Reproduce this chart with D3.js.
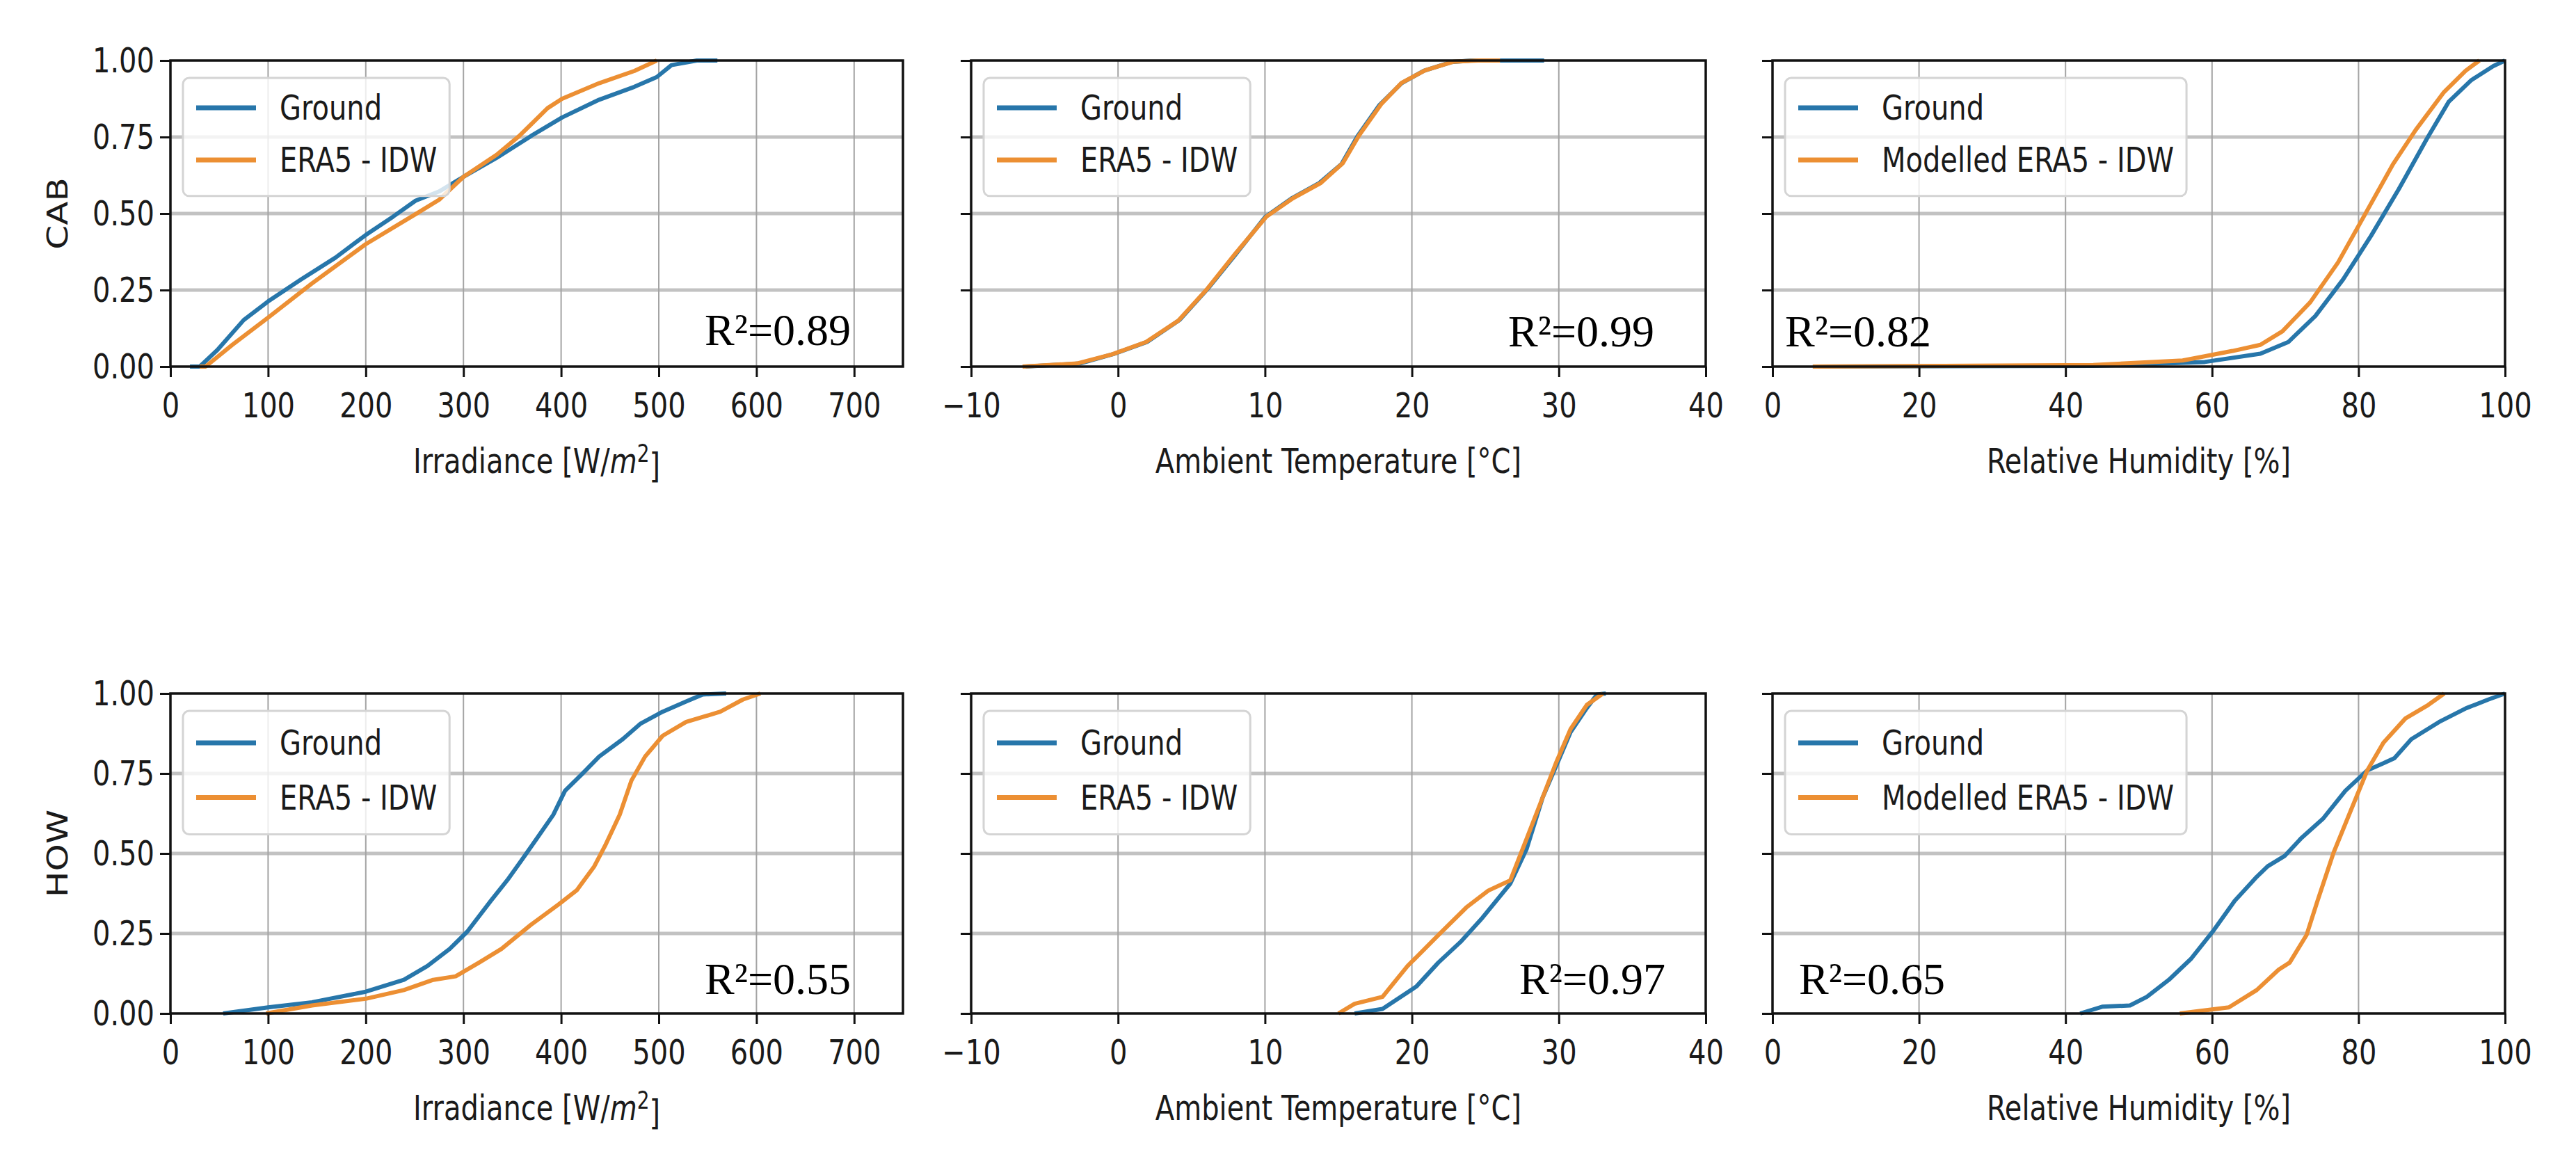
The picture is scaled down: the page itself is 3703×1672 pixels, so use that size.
<!DOCTYPE html>
<html>
<head>
<meta charset="utf-8">
<script src="https://cdn.jsdelivr.net/npm/d3@7"></script>
<style>
  body { margin: 0; background: #fff; }
  svg text { font-family: "DejaVu Sans", sans-serif; fill: #1a1a1a; }
  /* the source figure is stretched vertically, so glyphs are a bit tall */
  .sy { transform-box: fill-box; transform-origin: 50% 50%; transform: scaleY(1.25); }
  .r2 { font-family: "Liberation Serif", "Times New Roman", serif; fill: #000; }
</style>
</head>
<body>
<div id="chart"></div>
<script>
// Tick values for each kind of axis
const irrTicks = [0, 100, 200, 300, 400, 500, 600, 700];
const tempTicks = [-10, 0, 10, 20, 30, 40];
const rhTicks = [0, 20, 40, 60, 80, 100];
const cdfTicks = [0, 0.25, 0.5, 0.75, 1];

const rowLabels = ["CAB", "HOW"];
const r2Labels = ["0.89", "0.99", "0.82", "0.55", "0.97", "0.65"];

// CDF curves, [value, cumulative fraction]
const cabIrrGround = [[20,0],[30,0],[48,0.054],[75,0.152],[100,0.213],[134,0.285],[169,0.356],[200,0.43],[228,0.49],[251,0.542],[275,0.572],[300,0.62],[334,0.682],[369,0.753],[401,0.814],[439,0.872],[475,0.914],[498,0.946],[513,0.985],[539,1],[560,1]];
const cabIrrEra = [[30,0],[36,0],[63,0.07],[100,0.16],[145,0.272],[200,0.4],[251,0.498],[275,0.545],[300,0.62],[334,0.692],[357,0.753],[386,0.844],[401,0.875],[439,0.926],[475,0.966],[498,1]];
const cabTempGround = [[-6.3,0],[-2.6,0.01],[-0.3,0.041],[2.0,0.081],[4.2,0.153],[6.1,0.254],[8.0,0.366],[10,0.488],[11.8,0.549],[13.7,0.6],[15.2,0.661],[16.3,0.753],[17.8,0.855],[19.3,0.926],[20.8,0.966],[22.7,0.995],[24,1],[29,1]];
const cabTempEra = [[-6.5,0],[-2.8,0.01],[-0.4,0.04],[1.9,0.08],[4.1,0.15],[6.0,0.25],[8.0,0.37],[10.1,0.49],[11.9,0.55],[13.8,0.6],[15.3,0.665],[16.4,0.755],[17.9,0.857],[19.3,0.927],[20.9,0.968],[22.8,0.996],[24.5,1],[26,1]];
const cabRhGround = [[5.5,0],[43.8,0.002],[59,0.015],[66.6,0.042],[70.4,0.08],[74.1,0.165],[77.9,0.285],[81.7,0.427],[85.5,0.58],[89.3,0.743],[92.3,0.865],[95.4,0.936],[98.4,0.982],[100,1]];
const cabRhEra = [[5.5,0],[43.8,0.005],[56,0.02],[62.8,0.051],[66.6,0.071],[69.6,0.115],[73.4,0.21],[77.2,0.34],[80.9,0.498],[84.7,0.661],[87.8,0.773],[91.6,0.895],[94.6,0.966],[96.5,1]];
const howIrrGround = [[54,0],[100,0.019],[145,0.035],[200,0.068],[239,0.105],[263,0.148],[286,0.202],[304,0.256],[328,0.352],[345,0.417],[360,0.481],[375,0.546],[392,0.621],[404,0.696],[422,0.75],[439,0.803],[463,0.857],[481,0.905],[504,0.943],[528,0.975],[545,0.997],[569,1]];
const howIrrEra = [[98,0],[145,0.025],[200,0.046],[239,0.073],[269,0.105],[292,0.116],[316,0.159],[339,0.202],[369,0.277],[398,0.342],[416,0.385],[434,0.46],[445,0.524],[460,0.621],[472,0.728],[486,0.803],[504,0.868],[528,0.911],[563,0.943],[586,0.981],[604,1]];
const howTempGround = [[16.1,0],[18.0,0.014],[20.3,0.084],[21.8,0.159],[23.3,0.223],[24.8,0.299],[26.7,0.406],[27.8,0.513],[28.9,0.675],[30.0,0.793],[30.8,0.879],[31.9,0.954],[32.6,0.997],[33.2,1]];
const howTempEra = [[15.0,0],[16.1,0.03],[18.0,0.052],[19.7,0.148],[21.8,0.245],[23.7,0.331],[25.2,0.384],[26.7,0.416],[27.8,0.545],[28.9,0.675],[29.8,0.782],[30.8,0.889],[31.9,0.964],[33.0,1]];
const howRhGround = [[42,0],[45,0.021],[48.8,0.025],[51.1,0.052],[54.1,0.105],[57.1,0.17],[60.1,0.256],[63.1,0.352],[66.1,0.427],[67.6,0.46],[69.9,0.492],[72.1,0.546],[75.2,0.61],[78.2,0.696],[81.2,0.76],[83.4,0.782],[84.9,0.798],[87.2,0.857],[91,0.911],[94.7,0.954],[97.7,0.981],[100,1]];
const howRhEra = [[55.6,0],[62.3,0.019],[66.1,0.073],[69.1,0.137],[70.6,0.159],[72.9,0.245],[74.4,0.352],[76.6,0.503],[78.9,0.632],[81.2,0.76],[83.4,0.846],[86.4,0.922],[89.5,0.964],[91.7,1]];

const blue = "#2776aa", orange = "#ec8f33";

// Layout of the 2x3 grid (pixels)
const cols = [[245, 1298], [1396, 2452], [2548, 3601]];
const rows = [[87, 527], [997, 1457]];

// Per-column axis settings
const columns = [
  { domain: [0, 750], ticks: irrTicks, title: "irr", names: ["Ground", "ERA5 - IDW"] },
  { domain: [-10, 40], ticks: tempTicks, title: "Ambient Temperature [°C]", names: ["Ground", "ERA5 - IDW"] },
  { domain: [0, 100], ticks: rhTicks, title: "Relative Humidity [%]", names: ["Ground", "Modelled ERA5 - IDW"] }
];
const series = [
  [[cabIrrGround, cabIrrEra], [cabTempGround, cabTempEra], [cabRhGround, cabRhEra]],
  [[howIrrGround, howIrrEra], [howTempGround, howTempEra], [howRhGround, howRhEra]]
];
// where the R² note sits inside each panel: [dx from left, dy from bottom]
const r2Pos = [[[768, 31], [772, 29], [18, 29]], [[768, 28], [788, 28], [38, 28]]];

const svg = d3.select("#chart").append("svg")
    .attr("width", 3703)
    .attr("height", 1672);

rows.forEach(([top, bottom], r) => {
  const h = bottom - top;
  const y = d3.scaleLinear().domain([0, 1]).range([bottom, top]);

  // Row label (CAB / HOW)
  svg.append("g")
      .attr("transform", `translate(83,${(top + bottom) / 2}) rotate(-90) scale(1.25,1)`)
    .append("text")
      .attr("text-anchor", "middle")
      .attr("dy", "0.36em")
      .style("font-size", "40px")
      .text(rowLabels[r]);

  cols.forEach(([left, right], c) => {
    const col = columns[c];
    const x = d3.scaleLinear().domain(col.domain).range([left, right]);
    const g = svg.append("g");

    // Grid
    g.selectAll(".hgrid").data(cdfTicks.slice(1, -1)).join("line")
        .attr("x1", left).attr("x2", right)
        .attr("y1", d => y(d)).attr("y2", d => y(d))
        .attr("stroke", "#c2c2c2").attr("stroke-width", 5);
    g.selectAll(".vgrid").data(col.ticks.filter(d => d > col.domain[0] && d < col.domain[1])).join("line")
        .attr("x1", d => x(d)).attr("x2", d => x(d))
        .attr("y1", top).attr("y2", bottom)
        .attr("stroke", "#a4a4a4").attr("stroke-width", 2);

    // Curves
    const line = d3.line().x(d => x(d[0])).y(d => y(d[1]));
    series[r][c].forEach((pts, i) => {
      g.append("path")
          .datum(pts)
          .attr("d", line)
          .attr("fill", "none")
          .attr("stroke", i === 0 ? blue : orange)
          .attr("stroke-width", 6)
          .attr("stroke-linejoin", "round");
    });

    // Legend
    const lg = g.append("g").attr("transform", `translate(${left},${top})`);
    const box = lg.append("rect")
        .attr("x", 18).attr("y", 25)
        .attr("height", h * 0.386)
        .attr("rx", 9)
        .attr("fill", "#fff").attr("fill-opacity", 0.8)
        .attr("stroke", "#d4d4d4").attr("stroke-width", 3);
    let maxEnd = 0;
    col.names.forEach((name, i) => {
      const ly = i === 0 ? h * 0.1545 : h * 0.325;
      lg.append("line")
          .attr("x1", 37).attr("x2", 123)
          .attr("y1", ly).attr("y2", ly)
          .attr("stroke", i === 0 ? blue : orange)
          .attr("stroke-width", 7);
      const t = lg.append("text")
          .attr("class", "sy")
          .attr("x", 157).attr("y", ly + 14)
          .style("font-size", "40px")
          .text(name);
      maxEnd = Math.max(maxEnd, 157 + t.node().getComputedTextLength());
    });
    box.attr("width", maxEnd);

    // Axes
    const xAxis = g.append("g")
        .attr("transform", `translate(0,${bottom})`)
        .call(d3.axisBottom(x).tickValues(col.ticks).tickSize(15).tickPadding(26));
    const yAxis = g.append("g")
        .attr("transform", `translate(${left},0)`)
        .call(d3.axisLeft(y).tickValues(cdfTicks).tickSize(15).tickPadding(8)
          .tickFormat(c === 0 ? d3.format(".2f") : () => ""));
    [xAxis, yAxis].forEach(a => {
      a.select(".domain").remove();
      a.selectAll(".tick line").attr("stroke", "#111").attr("stroke-width", 3);
      a.selectAll(".tick text").attr("class", "sy")
          .style("font-size", "40px").style("fill", "#1a1a1a");
    });

    // Frame
    g.append("rect")
        .attr("x", left).attr("y", top)
        .attr("width", right - left).attr("height", h)
        .attr("fill", "none").attr("stroke", "#111").attr("stroke-width", 3.5);

    // Axis title
    const title = g.append("text")
        .attr("class", "sy")
        .attr("x", (left + right) / 2)
        .attr("y", bottom + 150)
        .attr("text-anchor", "middle")
        .style("font-size", "40px");
    if (col.title === "irr") {
      title.append("tspan").text("Irradiance [W/");
      title.append("tspan").style("font-style", "italic").text("m");
      title.append("tspan").attr("dy", "-0.45em").style("font-size", "28px").text("2");
      title.append("tspan").attr("dy", "0.45em").text("]");
    } else {
      title.text(col.title);
    }

    // R² note
    const [dx, dy] = r2Pos[r][c];
    g.append("text")
        .attr("class", "r2")
        .attr("x", left + dx)
        .attr("y", bottom - dy)
        .style("font-size", "64px")
        .text("R²=" + r2Labels[r * 3 + c]);
  });
});
</script>
</body>
</html>
